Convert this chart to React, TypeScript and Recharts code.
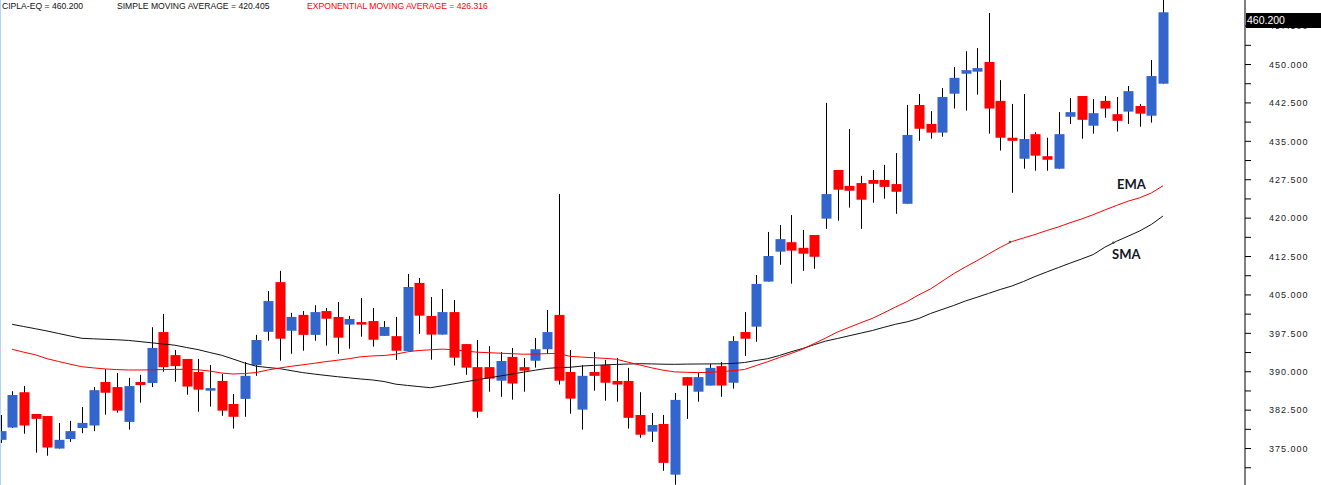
import React from "react";
import { Bar, ComposedChart, Line, ReferenceDot, XAxis, YAxis } from "recharts";

// OHLC, one entry per session
const opens = [
  376.7, 379.1, 386.0, 381.75, 381.35, 375.0, 376.85, 379.0, 379.5, 388.0,
  387.0, 380.2, 388.0, 387.8, 397.75, 393.25, 392.5, 389.95, 386.3, 388.2,
  383.7, 384.7, 391.3, 397.8, 407.5, 398.0, 401.1, 397.2, 401.85, 400.7,
  399.2, 399.7, 399.9, 397.0, 396.95, 394.05, 407.35, 400.9, 397.25, 401.65,
  395.4, 390.9, 390.9, 388.25, 392.9, 390.9, 392.15, 394.4, 401.1, 389.95,
  382.6, 389.95, 391.3, 388.2, 388.2, 381.55, 378.3, 379.8, 369.9, 388.95,
  386.1, 387.3, 391.1, 387.85, 397.75, 398.8, 407.6, 413.45, 415.3, 414.2,
  416.7, 419.9, 429.4, 426.3, 426.85, 427.45, 427.45, 426.65, 422.8, 442.1,
  438.4, 436.7, 444.3, 448.2, 448.6, 450.5, 442.9, 435.7, 431.6, 436.4,
  432.1, 429.65, 439.8, 443.85, 438.05, 442.9, 440.3, 440.8, 441.9, 440.0,
  446.25,
];
const highs = [
  381.55, 386.2, 387.2, 381.75, 381.35, 380.0, 380.4, 383.1, 387.0, 390.5,
  389.75, 388.8, 389.4, 398.7, 401.3, 394.25, 392.5, 392.5, 391.3, 389.55,
  385.65, 391.9, 397.2, 405.75, 409.7, 401.5, 401.85, 403.0, 402.45, 403.6,
  400.9, 404.4, 402.45, 399.9, 400.7, 409.1, 408.3, 404.6, 406.15, 404.0,
  395.4, 396.2, 395.0, 393.85, 394.65, 392.7, 396.6, 402.05, 424.7, 394.25,
  391.3, 393.85, 392.3, 392.7, 390.75, 386.0, 381.95, 381.55, 385.85, 388.95,
  389.75, 391.5, 391.9, 396.95, 401.65, 408.9, 417.3, 418.65, 420.6, 417.7,
  416.7, 442.5, 429.4, 437.4, 428.25, 429.4, 430.4, 432.7, 442.1, 444.25,
  440.9, 445.4, 449.5, 452.6, 453.2, 460.05, 446.95, 442.3, 444.25, 436.8,
  435.7, 440.7, 443.45, 443.85, 443.25, 443.85, 443.65, 445.8, 442.3, 450.9,
  462.6,
];
const lows = [
  376.1, 379.0, 377.9, 374.2, 373.6, 375.0, 376.3, 378.0, 378.4, 381.6,
  382.0, 378.7, 383.95, 387.0, 390.0, 388.05, 385.5, 382.2, 383.2, 381.4,
  378.9, 381.2, 389.2, 396.05, 392.15, 393.5, 394.1, 396.05, 395.1, 393.5,
  394.5, 396.85, 394.9, 397.0, 392.3, 394.05, 397.4, 392.35, 397.25, 391.2,
  389.4, 381.0, 386.1, 385.1, 384.55, 386.1, 390.8, 393.45, 387.5, 381.8,
  378.7, 386.3, 384.35, 384.15, 378.9, 377.1, 376.3, 370.65, 367.95, 380.8,
  384.15, 387.3, 385.1, 386.7, 393.1, 395.85, 407.6, 410.9, 407.2, 409.7,
  410.1, 417.9, 419.5, 422.05, 417.9, 423.0, 423.8, 420.85, 422.8, 435.1,
  435.5, 435.9, 441.4, 441.0, 444.1, 436.5, 433.2, 424.95, 429.65, 429.25,
  429.25, 429.65, 438.4, 435.5, 436.5, 439.6, 436.9, 438.4, 437.85, 438.65,
  446.25,
];
const closes = [
  378.4, 385.45, 379.5, 380.8, 375.2, 376.7, 378.4, 380.0, 386.4, 385.9,
  382.4, 387.2, 387.4, 394.65, 390.9, 391.1, 387.1, 386.5, 386.8, 382.4,
  381.2, 389.2, 396.2, 403.8, 396.45, 400.7, 397.2, 401.65, 400.35, 396.65,
  400.3, 399.2, 396.25, 398.75, 394.1, 406.55, 400.95, 397.25, 401.65, 392.75,
  390.8, 382.2, 388.65, 392.1, 387.7, 390.2, 394.4, 397.75, 388.25, 384.75,
  389.2, 389.2, 387.85, 387.5, 381.0, 377.7, 379.6, 372.2, 384.5, 387.3,
  388.95, 390.75, 387.3, 396.0, 396.45, 407.15, 412.6, 415.9, 413.65, 413.05,
  412.45, 424.7, 425.55, 425.35, 423.6, 426.7, 426.1, 425.15, 436.25, 437.45,
  436.7, 443.65, 447.4, 448.9, 449.3, 441.4, 435.7, 435.1, 435.45, 432.2,
  431.4, 436.4, 440.7, 439.2, 440.5, 441.4, 439.0, 444.8, 440.4, 447.75,
  460.2,
];
const sma = [
  null, 399.26, 398.83, 398.4, 397.96, 397.47, 396.98, 396.53, 396.43, 396.33,
  396.24, 396.12, 395.89, 395.65, 395.42, 395.18, 394.73, 394.32, 393.76, 393.23,
  392.49, 391.71, 391.08, 390.83, 390.61, 390.22, 389.83, 389.54, 389.28, 389.03,
  388.8, 388.58, 388.39, 388.09, 387.57, 387.33, 387.1, 386.88, 387.25, 387.64,
  388.03, 388.43, 388.8, 389.17, 389.54, 389.93, 390.3, 390.65, 390.81, 390.87,
  391.1, 391.24, 391.34, 391.43, 391.51, 391.57, 391.53, 391.47, 391.45, 391.49,
  391.51, 391.53, 391.55, 391.61, 391.8, 392.19, 392.55, 393.17, 393.89, 394.54,
  395.28, 396.0, 396.49, 397.02, 397.53, 398.05, 398.68, 399.28, 399.75, 400.4,
  401.37, 402.16, 402.94, 403.81, 404.54, 405.3, 406.06, 406.74, 407.62, 408.6,
  409.48, 410.34, 411.2, 412.02, 412.88, 414.32, 415.47, 416.47, 417.49, 418.76,
  420.405,
];
const ema = [
  null, 394.38, 393.82, 393.31, 392.55, 392.0, 391.47, 390.98, 390.75, 390.55,
  390.42, 390.34, 390.34, 390.38, 390.42, 390.46, 390.48, 390.38, 390.14, 389.75,
  389.56, 389.64, 389.85, 390.34, 390.73, 391.06, 391.35, 391.65, 391.98, 392.25,
  392.55, 392.92, 393.09, 393.17, 393.42, 393.89, 394.15, 394.28, 394.42, 394.28,
  394.05, 393.82, 393.72, 393.62, 393.52, 393.42, 393.46, 393.54, 393.56, 393.01,
  392.86, 392.74, 392.62, 392.43, 391.86, 391.32, 390.77, 390.3, 389.97, 389.89,
  389.83, 389.89, 390.03, 390.2, 390.44, 391.2, 391.96, 392.78, 393.56, 394.4,
  395.51, 396.59, 397.76, 398.66, 399.56, 400.42, 401.51, 402.64, 403.72, 405.03,
  406.16, 407.66, 409.15, 410.45, 411.69, 412.99, 414.28, 415.42, 416.12, 416.8,
  417.58, 418.27, 419.09, 419.83, 420.67, 421.59, 422.47, 423.31, 423.97, 424.91,
  426.316,
];

const yTicks = [
  371.25, 375, 378.75, 382.5, 386.25, 390, 393.75, 397.5, 401.25, 405, 408.75,
  412.5, 416.25, 420, 423.75, 427.5, 431.25, 435, 438.75, 442.5, 446.25, 450,
  453.75, 457.5,
];

const UP = "#3366CC";
const DOWN = "#FF0000";

const data = opens.map((o, i) => ({
  i,
  range: [lows[i], highs[i]],
  o,
  h: highs[i],
  l: lows[i],
  c: closes[i],
  sma: sma[i],
  ema: ema[i],
}));

function Candle(props: any) {
  const { x, y, width, height, payload } = props;
  if (!payload || height == null) return null;
  const { o, h, l, c } = payload;
  const k = height / (h - l || 1);
  const cx = Math.round(x + width / 2) + 0.5;
  const top = y + (h - Math.max(o, c)) * k;
  const bot = y + (h - Math.min(o, c)) * k;
  return (
    <g>
      <line x1={cx} x2={cx} y1={y} y2={y + height} stroke="#000" strokeWidth={1} />
      <rect
        x={cx - 5}
        y={top}
        width={10}
        height={Math.max(bot - top, 1.5)}
        fill={c >= o ? UP : DOWN}
      />
    </g>
  );
}

const tickFmt = (v: number) => (Math.round(v * 100) % 750 === 0 ? v.toFixed(3) : "");

export default function App() {
  const font = "'Liberation Sans', Arial, sans-serif";
  return (
    <div style={{ position: "absolute", left: 0, top: 0, width: 1321, height: 485, background: "#fff" }}>
      <ComposedChart width={1321} height={485} data={data} margin={{ top: 0, right: 0, bottom: 0, left: 0 }}>
        <XAxis type="number" dataKey="i" domain={[-0.043, 107.06]} hide allowDataOverflow />
        <YAxis
          orientation="right"
          width={76}
          domain={[367.88, 462.6]}
          allowDataOverflow
          ticks={yTicks}
          interval={0}
          tickFormatter={tickFmt}
          tickSize={6}
          tickMargin={18}
          axisLine={{ stroke: "#000" }}
          tickLine={{ stroke: "#000" }}
          tick={{ fill: "#222", fontSize: 9, fontFamily: font, letterSpacing: 1 }}
        />
        <Bar dataKey="range" barSize={10} shape={<Candle />} isAnimationActive={false} />
        <Line type="linear" dataKey="sma" stroke="#111" strokeWidth={1} dot={false} isAnimationActive={false} />
        <Line type="linear" dataKey="ema" stroke="#FF0000" strokeWidth={1} dot={false} isAnimationActive={false} />
        <ReferenceDot x={86.84} y={415.34} r={1.3} fill="#555" stroke="none" />
        <ReferenceDot x={95.73} y={415.2} r={1.3} fill="#555" stroke="none" />
      </ComposedChart>

      <div style={{ position: "absolute", left: 0, top: 0, width: 1, height: 485, background: "#b3d4f5" }} />

      <div style={{ position: "absolute", top: 0, left: 0, height: 12, fontFamily: font, fontSize: 8.6, lineHeight: "12px", color: "#111", whiteSpace: "nowrap" }}>
        <span style={{ position: "absolute", left: 2 }}>CIPLA-EQ = 460.200</span>
        <span style={{ position: "absolute", left: 117 }}>SIMPLE MOVING AVERAGE = 420.405</span>
        <span style={{ position: "absolute", left: 307, color: "#FF0000" }}>EXPONENTIAL MOVING AVERAGE = 426.316</span>
      </div>

      <div
        style={{
          position: "absolute",
          left: 1246,
          top: 13,
          width: 75,
          height: 14.5,
          background: "#000",
          color: "#fff",
          fontFamily: font,
          fontSize: 10.5,
          lineHeight: "14.5px",
          paddingLeft: 1,
          boxSizing: "border-box",
        }}
      >
        460.200
      </div>

      <div style={{ position: "absolute", left: 1117, top: 176, fontFamily: "Lato, sans-serif", fontWeight: 700, fontSize: 13, color: "#111827" }}>
        EMA
      </div>
      <div style={{ position: "absolute", left: 1112, top: 246, fontFamily: "Lato, sans-serif", fontWeight: 700, fontSize: 13, color: "#111827" }}>
        SMA
      </div>
    </div>
  );
}
